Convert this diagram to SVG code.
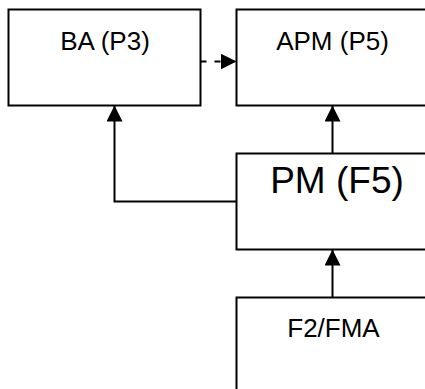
<svg xmlns="http://www.w3.org/2000/svg" width="425" height="389" viewBox="0 0 425 389">
  <style>
    .box { fill: #ffffff; stroke: #000000; stroke-width: 2; }
    .lbl { font-family: "Liberation Sans", Arial, sans-serif; font-size: 26px; fill: #000000; text-anchor: middle; }
    .big { font-size: 37px; }
    .edge { fill: none; stroke: #000000; stroke-width: 2; }
    .dash { stroke-dasharray: 6 8; }
  </style>
  <defs>
    <marker id="arrow" markerUnits="userSpaceOnUse" markerWidth="16" markerHeight="16" viewBox="0 0 14 14" refX="14" refY="7" orient="auto">
      <path d="M0,0 L14,7 L0,14 Z" fill="#000000"/>
    </marker>
  </defs>
  <rect width="425" height="389" fill="#ffffff"/>
  <g id="BA">
    <rect class="box" x="8.5" y="9.5" width="192" height="96"/>
    <text class="lbl" x="105" y="49.5">BA (P3)</text>
  </g>
  <g id="APM">
    <rect class="box" x="236.5" y="9.5" width="192" height="96"/>
    <text class="lbl" x="332.5" y="49.5">APM (P5)</text>
  </g>
  <g id="PM">
    <rect class="box" x="236.5" y="153.5" width="192" height="96"/>
    <text class="lbl big" x="337" y="192.5">PM (F5)</text>
  </g>
  <g id="F2FMA">
    <rect class="box" x="236.5" y="297.5" width="192" height="96"/>
    <text class="lbl" x="333.5" y="336.5">F2/FMA</text>
  </g>
  <g id="connectors">
    <path class="edge dash" d="M200.5,61.5 L236.5,61.5" marker-end="url(#arrow)"/>
    <path class="edge" d="M236.5,201.5 L114.5,201.5 L114.5,105.5" marker-end="url(#arrow)"/>
    <path class="edge" d="M332.5,153.5 L332.5,105.5" marker-end="url(#arrow)"/>
    <path class="edge" d="M332.5,297.5 L332.5,249.5" marker-end="url(#arrow)"/>
  </g>
</svg>
